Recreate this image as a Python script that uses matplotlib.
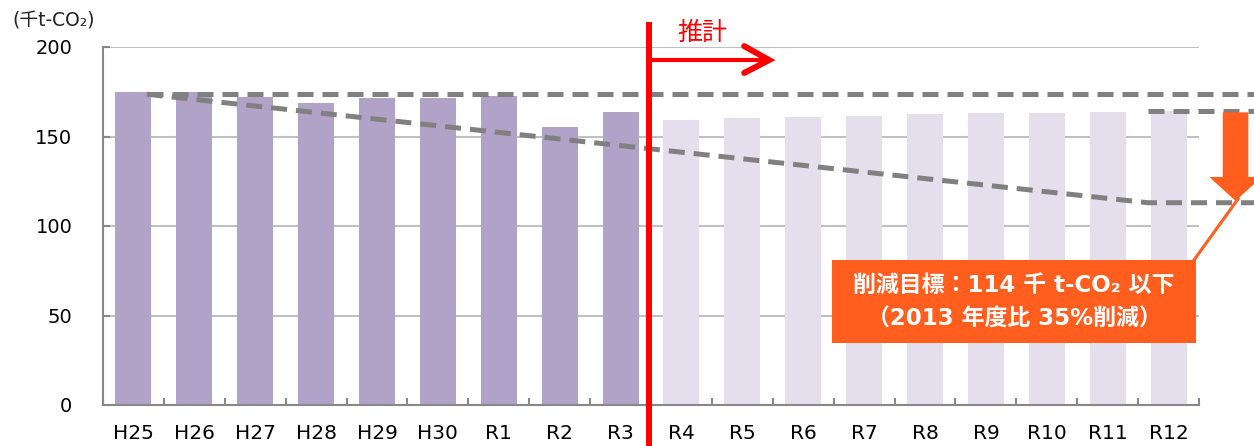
import numpy as np
import matplotlib
matplotlib.use("Agg")
import matplotlib.pyplot as plt
from matplotlib.patches import Polygon, Rectangle
from matplotlib.lines import Line2D

# ---- data ----
years = ["H25", "H26", "H27", "H28", "H29", "H30", "R1", "R2", "R3",
         "R4", "R5", "R6", "R7", "R8", "R9", "R10", "R11", "R12"]
emissions = [175, 175, 172.3, 168.9, 171.7, 171.7, 172.8, 155.5, 163.5,
             159.2, 160.3, 160.9, 161.5, 162.6, 163.1, 163.2, 163.7, 164.0]
n_actual = 9                      # H25..R3 are actual, rest are estimates
baseline = 173.6                  # 2013 level (dashed)
target = 113                      # reduction target path end
yticks = [0, 50, 100, 150, 200]

col_actual = "#B1A2C7"
col_est = "#E4DFEC"
col_dash = "#808080"
col_orange = "#FF5E1F"
latin_cjk = ["DejaVu Sans", "Noto Sans CJK JP"]
cjk = ["Noto Sans CJK JP", "DejaVu Sans"]

W, H = 1254, 446
fig = plt.figure(figsize=(W / 100, H / 100), dpi=100)
ax = fig.add_axes([103 / W, 1 - 405 / H, (1199 - 103) / W, (405 - 47) / H])

x = np.arange(len(years))
colors = [col_actual if i < n_actual else col_est for i in range(len(years))]
ax.bar(x, emissions, width=0.59, color=colors, zorder=2)

ax.set_xlim(-0.5, len(years) - 0.5)
ax.set_ylim(0, 200)
ax.set_yticks(yticks)
ax.set_yticklabels([str(v) for v in yticks])
ax.yaxis.grid(True, color="#C0C0C0", linewidth=1.5, zorder=0)
ax.set_axisbelow(True)
for s in ["top", "right"]:
    ax.spines[s].set_visible(False)
for s in ["left", "bottom"]:
    ax.spines[s].set_color("#888888")
    ax.spines[s].set_linewidth(1.5)

ax.set_xticks(x)
ax.set_xticklabels(years)
ax.set_xticks(np.arange(-0.5, len(years), 1), minor=True)
ax.tick_params(axis="x", which="major", length=0, pad=14, labelsize=14.5)
ax.tick_params(axis="x", which="minor", direction="in", length=5, width=1.5, color="#888888")
ax.tick_params(axis="y", direction="in", length=5, width=1.5, color="#888888", pad=22, labelsize=14)

# ---- dashed reference lines ----
x0, xk, xend = 0.22, 16.66, 18.45
dash_kw = dict(color=col_dash, linewidth=3.6, dashes=(3.2, 1.8), clip_on=False, zorder=4)
ax.plot([x0, xend], [baseline, baseline], **dash_kw)
ax.plot([x0, xk, xend], [baseline, target, target], **dash_kw)
ax.plot([xk, xend], [emissions[-1], emissions[-1]], **dash_kw)

# ---- red divider + estimate arrow ----
xdiv = 8.47
ax.plot([xdiv, xdiv], [-30, 214], color="#FF0000", linewidth=4.3, clip_on=False,
        zorder=6, solid_capstyle="butt")
ax.plot([xdiv, 10.44], [192.7, 192.7], color="#FF0000", linewidth=3, clip_on=False, zorder=6)
ax.plot([10.03, 10.44, 10.03], [200.5, 192.7, 185.5], color="#FF0000", linewidth=4.3,
        clip_on=False, zorder=6, solid_capstyle="round", solid_joinstyle="miter")
ax.text(9.34, 207.8, "推計", color="#FF0000", fontsize=18, family=cjk,
        ha="center", va="center", clip_on=False)

# ---- orange down arrow ----
xc, hw, hh = 18.1, 0.21, 0.43
arrow = Polygon([(xc - hw, emissions[-1] - 0.5), (xc + hw, emissions[-1] - 0.5),
                 (xc + hw, 127.4), (xc + hh, 127.4), (xc, 114.0),
                 (xc - hh, 127.4), (xc - hw, 127.4)],
                closed=True, facecolor=col_orange, edgecolor="none",
                clip_on=False, zorder=5)
ax.add_patch(arrow)

# ---- callout box ----
def fx(px):
    return px / W


def fy(py):
    return 1 - py / H


fig.add_artist(Line2D([fx(1194), fx(1238)], [fy(260), fy(199)], color=col_orange,
                      linewidth=2.2, zorder=5))
fig.add_artist(Rectangle((fx(832), fy(343)), fx(1196) - fx(832), fy(260) - fy(343),
                         facecolor=col_orange, edgecolor="none", zorder=5))
fig.text(fx(1014), fy(285), "削減目標：114 千 t-CO₂ 以下", color="white", fontsize=16.5,
         fontweight="bold", family=latin_cjk, ha="center", va="center", zorder=6)
fig.text(fx(1014), fy(319), "（2013 年度比 35%削減）", color="white", fontsize=16.5,
         fontweight="bold", family=latin_cjk, ha="center", va="center", zorder=6)

# ---- unit label ----
fig.text(fx(12), fy(21), "(千t-CO₂)", color="#222222", fontsize=13.5, family=latin_cjk,
         ha="left", va="center")

fig.savefig("out.png", dpi=100)
